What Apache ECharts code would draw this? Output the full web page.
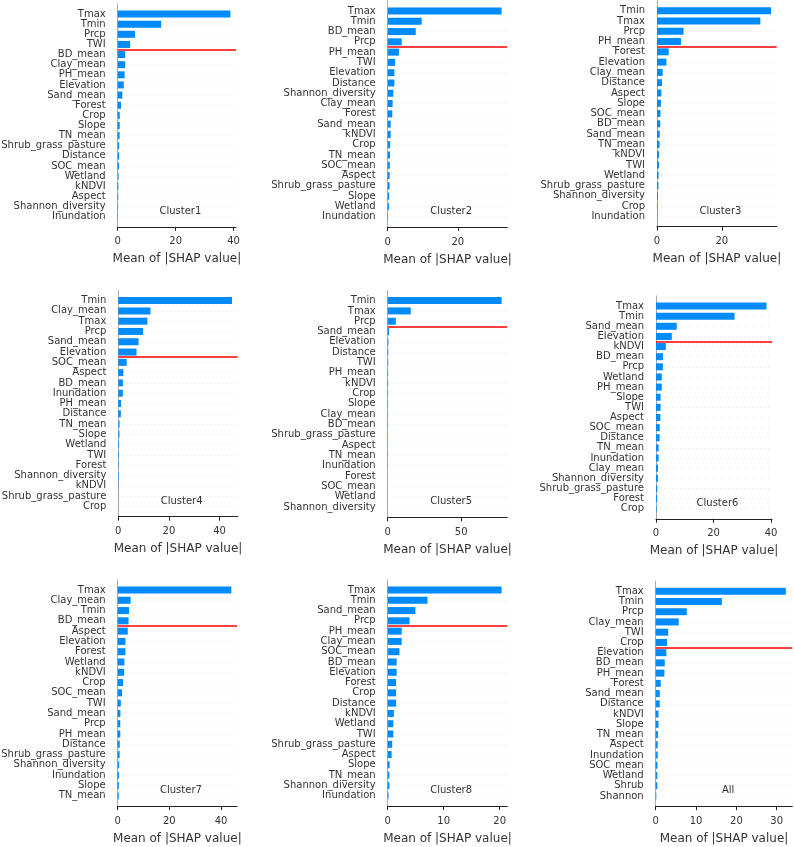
<!DOCTYPE html>
<html>
<head>
<meta charset="utf-8">
<script src="https://cdn.jsdelivr.net/npm/echarts@6/dist/echarts.min.js"></script>
<style>
html,body{margin:0;padding:0;background:#fff;}
#chart{width:794px;height:847px;}
</style>
</head>
<body>
<div id="chart"></div>
<script>
// ---------------- data ----------------
const titles = ['Cluster1','Cluster2','Cluster3','Cluster4','Cluster5','Cluster6','Cluster7','Cluster8','All'];

const names1 = ['Tmax','Tmin','Prcp','TWI','BD_mean','Clay_mean','PH_mean','Elevation','Sand_mean','Forest','Crop','Slope','TN_mean','Shrub_grass_pasture','Distance','SOC_mean','Wetland','kNDVI','Aspect','Shannon_diversity','Inundation'];
const vals1  = [38.9,15.0,6.0,4.3,2.6,2.6,2.4,2.1,1.6,1.15,0.7,0.7,0.65,0.5,0.5,0.45,0.3,0.25,0.2,0.15,0.1];

const names2 = ['Tmax','Tmin','BD_mean','Prcp','PH_mean','TWI','Elevation','Distance','Shannon_diversity','Clay_mean','Forest','Sand_mean','kNDVI','Crop','TN_mean','SOC_mean','Aspect','Shrub_grass_pasture','Slope','Wetland','Inundation'];
const vals2  = [32.5,9.7,8.0,4.0,3.2,2.1,1.9,1.9,1.6,1.4,1.3,0.85,0.85,0.7,0.65,0.6,0.55,0.55,0.4,0.35,0.1];

const names3 = ['Tmin','Tmax','Prcp','PH_mean','Forest','Elevation','Clay_mean','Distance','Aspect','Slope','SOC_mean','BD_mean','Sand_mean','TN_mean','kNDVI','TWI','Wetland','Shrub_grass_pasture','Shannon_diversity','Crop','Inundation'];
const vals3  = [35.2,31.9,8.2,7.4,3.6,2.9,1.75,1.55,1.35,1.2,1.05,1.0,0.85,0.8,0.65,0.6,0.5,0.45,0.3,0.2,0.1];

const names4 = ['Tmin','Clay_mean','Tmax','Prcp','Sand_mean','Elevation','SOC_mean','Aspect','BD_mean','Inundation','PH_mean','Distance','TN_mean','Slope','Wetland','TWI','Forest','Shannon_diversity','kNDVI','Shrub_grass_pasture','Crop'];
const vals4  = [44.9,12.7,11.5,9.8,8.0,7.2,3.3,2.0,1.8,1.8,1.1,1.0,0.5,0.45,0.3,0.25,0.2,0.2,0.15,0.1,0.05];

const names5 = ['Tmin','Tmax','Prcp','Sand_mean','Elevation','Distance','TWI','PH_mean','kNDVI','Crop','Slope','Clay_mean','BD_mean','Shrub_grass_pasture','Aspect','TN_mean','Inundation','Forest','SOC_mean','Wetland','Shannon_diversity'];
const vals5  = [77.5,15.7,5.5,0.9,0.5,0.4,0.35,0.3,0.3,0.25,0.25,0.2,0.2,0.2,0.15,0.15,0.12,0.05,0.04,0.03,0.02];

const names6 = ['Tmax','Tmin','Sand_mean','Elevation','kNDVI','BD_mean','Prcp','Wetland','PH_mean','Slope','TWI','Aspect','SOC_mean','Distance','TN_mean','Inundation','Clay_mean','Shannon_diversity','Shrub_grass_pasture','Forest','Crop'];
const vals6  = [38.4,27.3,7.2,5.5,3.4,2.4,2.4,2.0,2.0,1.6,1.6,1.5,1.3,1.25,0.9,0.9,0.7,0.65,0.45,0.4,0.2];

const names7 = ['Tmax','Clay_mean','Tmin','BD_mean','Aspect','Elevation','Forest','Wetland','kNDVI','Crop','SOC_mean','TWI','Sand_mean','Prcp','PH_mean','Distance','Shrub_grass_pasture','Shannon_diversity','Inundation','Slope','TN_mean'];
const vals7  = [44.0,5.0,4.4,4.2,3.9,3.0,3.0,2.6,2.5,2.1,1.7,1.2,1.05,1.0,1.0,0.8,0.75,0.55,0.5,0.45,0.4];

const names8 = ['Tmax','Tmin','Sand_mean','Prcp','PH_mean','Clay_mean','SOC_mean','BD_mean','Elevation','Forest','Crop','Distance','kNDVI','Wetland','TWI','Shrub_grass_pasture','Aspect','Slope','TN_mean','Shannon_diversity','Inundation'];
const vals8  = [20.35,7.1,4.95,3.9,2.5,2.5,2.1,1.6,1.6,1.5,1.5,1.5,1.1,1.0,1.0,0.8,0.7,0.35,0.3,0.3,0.15];

const names9 = ['Tmax','Tmin','Prcp','Clay_mean','TWI','Crop','Elevation','BD_mean','PH_mean','Forest','Sand_mean','Distance','kNDVI','Slope','TN_mean','Aspect','Inundation','SOC_mean','Wetland','Shrub','Shannon'];
const vals9  = [32.25,16.4,7.7,5.7,3.1,2.8,2.65,2.25,2.15,1.25,1.0,1.0,0.7,0.7,0.55,0.5,0.5,0.45,0.4,0.4,0.15];

// x-axis tick labels per panel
const ticks1 = [0,20,40];
const ticks2 = [0,20];
const ticks3 = [0,20];
const ticks4 = [0,20,40];
const ticks5 = [0,50];
const ticks6 = [0,20,40];
const ticks7 = [0,20,40];
const ticks8 = [0,10,20];
const ticks9 = [0,10,20,30];

// red cut-off line position (between feature rows)
const cutoffs = [3.5,3.5,3.5,5.5,2.5,3.5,3.5,3.5,5.5];

const xTitle = 'Mean of |SHAP value|';

// ---------------- layout ----------------
const layouts = [
  {left:117.7, top:3.9,   width:118.3, height:222.9},
  {left:387.7, top:0.7,   width:119.6, height:226.3},
  {left:657,   top:0.4,   width:119.7, height:226.3},
  {left:118.3, top:290.3, width:119.4, height:226.4},
  {left:387.7, top:290.3, width:119.6, height:227},
  {left:656,   top:295.9, width:116,   height:222.9},
  {left:117.7, top:579.7, width:119.3, height:226.3},
  {left:387.7, top:579.7, width:119.6, height:226.3},
  {left:655.7, top:581,   width:136.6, height:225.2}
];

const allNames = [names1,names2,names3,names4,names5,names6,names7,names8,names9];
const allVals  = [vals1,vals2,vals3,vals4,vals5,vals6,vals7,vals8,vals9];
const allTicks = [ticks1,ticks2,ticks3,ticks4,ticks5,ticks6,ticks7,ticks8,ticks9];

const FONT = 'DejaVu Sans';
const TXT = '#333333';
const BLUE = '#008bfb';

const grid = [], xAxis = [], yAxis = [], series = [], graphic = [];

for (let p = 0; p < 9; p++) {
  const L = layouts[p];
  const names = allNames[p], vals = allVals[p];
  const cats = [' '].concat(names, ['  ']);
  const n = names.length;
  grid.push({left:L.left, top:L.top, width:L.width, height:L.height, containLabel:false, outerBoundsMode:'none'});
  const xmax = Math.max.apply(null, vals) * 1.05;
  xAxis.push({
    type:'value', gridIndex:p, min:0, max:xmax,
    name:xTitle, nameLocation:'middle', nameGap:26.5,
    nameTextStyle:{fontFamily:FONT, fontSize:12, color:TXT},
    axisLine:{show:true, onZero:false, lineStyle:{color:'#222', width:1}},
    axisTick:{show:true, length:4, lineStyle:{color:'#222', width:1}, customValues:allTicks[p]},
    axisLabel:{fontFamily:FONT, fontSize:10, color:TXT, margin:10, customValues:allTicks[p]},
    splitLine:{show:false}
  });
  yAxis.push({
    type:'category', gridIndex:p, data:cats, inverse:true, boundaryGap:false,
    axisLine:{show:true, lineStyle:{color:'#aaaaaa', width:1}},
    axisTick:{show:false},
    axisLabel:{fontFamily:FONT, fontSize:10, color:TXT, margin:12, interval:0},
    splitLine:{show:true, interval:function(i, v){ return v.trim() !== ''; },
      lineStyle:{color:'#d0d0d0', width:0.6, type:[1,3]}}
  });
  yAxis.push({
    type:'value', gridIndex:p, min:-1, max:n, inverse:true, show:false
  });
  series.push({
    type:'bar', xAxisIndex:p, yAxisIndex:2*p,
    data: names.map((nm, i) => [vals[i], nm]),
    barWidth:7, itemStyle:{color:BLUE}, silent:true, z:3
  });
  series.push({
    type:'line', xAxisIndex:p, yAxisIndex:2*p+1, data:[], silent:true,
    markLine:{silent:true, symbol:'none', label:{show:false},
      lineStyle:{color:'#ff0000', width:1.5, type:'solid'},
      data:[{yAxis:cutoffs[p]}]}
  });
  graphic.push({
    type:'text', x:L.left + 0.53*L.width, y:L.top + L.height*(20.5/22),
    style:{text:titles[p], fill:TXT, font:'10px "DejaVu Sans"', textAlign:'center', textVerticalAlign:'middle'},
    z:10
  });
}

const chart = echarts.init(document.getElementById('chart'), null, {renderer:'canvas'});
chart.setOption({
  animation:false,
  backgroundColor:'#ffffff',
  textStyle:{fontFamily:FONT},
  grid, xAxis, yAxis, series, graphic
});
</script>
</body>
</html>
